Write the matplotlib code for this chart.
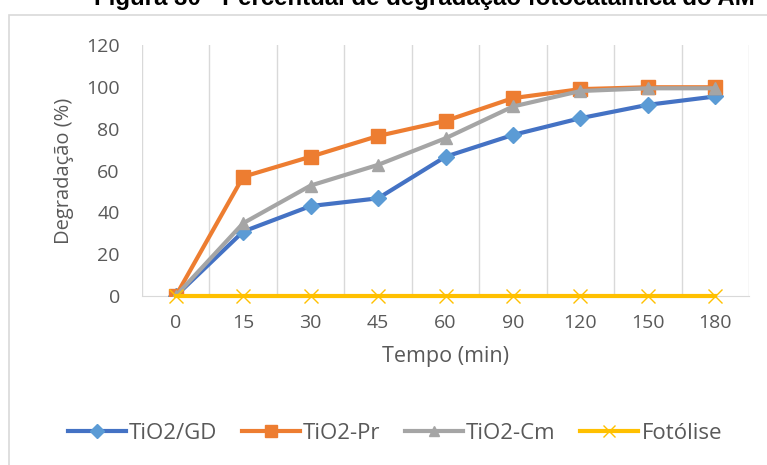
import numpy as np
import matplotlib
matplotlib.use("Agg")
import matplotlib.pyplot as plt
from matplotlib.patches import Rectangle

# dados
tempo = ["0", "15", "30", "45", "60", "90", "120", "150", "180"]
tio2_gd = [0, 30.8, 43.0, 46.7, 66.6, 77.0, 85.0, 91.4, 95.4]
tio2_pr = [0, 57.0, 66.6, 76.5, 83.7, 94.6, 98.9, 99.8, 99.8]
tio2_cm = [0, 34.8, 52.8, 62.7, 75.4, 90.6, 98.0, 99.3, 99.3]
fotolise = [0, 0, 0, 0, 0, 0, 0, 0, 0]

plt.rcParams['font.family'] = ['Open Sans', 'DejaVu Sans']

W, H = 767, 465
fig = plt.figure(figsize=(W / 100, H / 100), dpi=100)

# moldura do gráfico (cortada à direita e embaixo)
fig.patches.append(Rectangle((9 / W, -0.1), 1.1, 1.1 - 15 / H, transform=fig.transFigure,
                             fill=False, edgecolor='#d9d9d9', lw=1.2))

# título (cortado no topo, como no original)
fig.text(424 / W, 1 - 5 / H, "Figura 30 - Percentual de degradação fotocatalítica do AM",
         ha='center', va='baseline', fontsize=17.3, fontweight='bold', family='Liberation Sans')

ax = fig.add_axes([142 / W, 1 - 296 / H, (749 - 142) / W, (296 - 45) / H])
x = np.arange(len(tempo))

ax.plot(x, tio2_gd, color='#4472C4', lw=3, marker='D', markersize=8,
        markerfacecolor='#5B9BD5', markeredgecolor='#5B9BD5', label='TiO2/GD', zorder=3)
ax.plot(x, tio2_pr, color='#ED7D31', lw=3, marker='s', markersize=10,
        markerfacecolor='#ED7D31', markeredgecolor='#ED7D31', label='TiO2-Pr', zorder=3)
ax.plot(x, tio2_cm, color='#A5A5A5', lw=3, marker='^', markersize=8,
        markerfacecolor='#A5A5A5', markeredgecolor='#A5A5A5', label='TiO2-Cm', zorder=3)
ax.plot(x, fotolise, color='#FFC000', lw=3, marker='x', markersize=10, markeredgewidth=1,
        label='Fotólise', zorder=3, clip_on=False)

ax.set_xlim(-0.5, len(tempo) - 0.5)
ax.set_ylim(0, 120)
ax.set_yticks(range(0, 121, 20))
ax.set_xticks(x)
ax.set_xticklabels(tempo)
for xb in np.arange(-0.5, len(tempo), 1):
    ax.axvline(xb, color='#d9d9d9', lw=1, zorder=1)

for s in ['top', 'right', 'left']:
    ax.spines[s].set_visible(False)
ax.spines['bottom'].set_color('#d9d9d9')
ax.tick_params(length=0, labelsize=14, labelcolor='#595959')
ax.tick_params(axis='x', pad=13)
ax.tick_params(axis='y', pad=16)

ax.set_xlabel("Tempo (min)", fontsize=15.5, color='#595959', labelpad=10)
ax.set_ylabel("Degradação (%)", fontsize=14.5, color='#595959', labelpad=9)

leg = fig.legend(loc='center', bbox_to_anchor=(395 / W, 1 - 433 / H), ncol=4, frameon=False,
                 fontsize=16, handlelength=2.6, handletextpad=0.15, columnspacing=1.1,
                 markerscale=0.9)
for t in leg.get_texts():
    t.set_color('#595959')

fig.savefig("out.png", dpi=100)
